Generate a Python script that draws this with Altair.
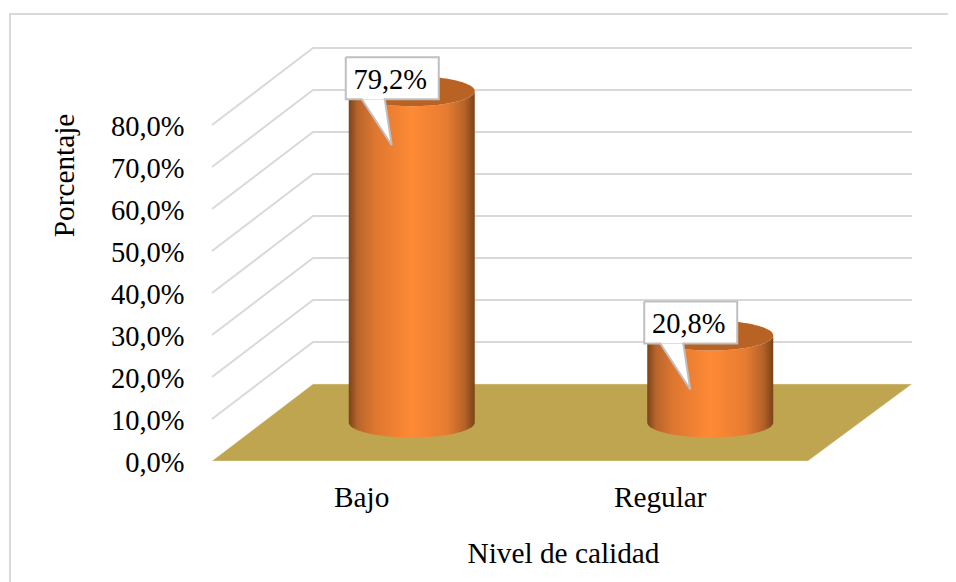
import altair as alt
import numpy as np
import pandas as pd

categories = ["Bajo", "Regular"]
values = [79.2, 20.8]
value_labels = ["79,2%", "20,8%"]
grid_ticks = [10, 20, 30, 40, 50, 60, 70, 80]
axis_ticks = [0, 10, 20, 30, 40, 50, 60, 70, 80]

# Projection of the 3-D box: one category = UX pixels, one percent point = UY pixels
UX, UY = 298.5, 4.2
PLOT_W, PLOT_H = 700, 413
DEPTH_X, DEPTH_Y = 101 / UX, 77 / UY
X_MAX, Y_MAX = PLOT_W / UX, PLOT_H / UY
BAR_PERSPECTIVE = 0.996  # bars stand mid-depth, so they rise slightly less
FONT = "Liberation Serif"
FS = 28.5
FS_X = 29.3

SX = alt.Scale(domain=[0, X_MAX], nice=False, zero=False)
SY = alt.Scale(domain=[0, Y_MAX], nice=False, zero=False)

x_expr = "datum.value < 1 ? '%s' : '%s'" % (categories[0], categories[1])
AX = alt.Axis(
    values=[0.5, 1.5],
    labelExpr=x_expr,
    domain=False,
    ticks=False,
    grid=False,
    labelFont=FONT,
    labelFontSize=FS_X,
    labelColor="#000000",
    labelPadding=36,
    labelBaseline="middle",
    labelOverlap=False,
    title="Nivel de calidad",
    titleFont=FONT,
    titleFontSize=FS_X,
    titleFontWeight="normal",
    titleColor="#000000",
    titleBaseline="middle",
    titleAlign="center",
    titleX=351,
    titleY=92,
)
AY = alt.Axis(
    values=axis_ticks,
    labelExpr="replace(format(datum.value, '.1f'), '.', ',') + '%'",
    domain=False,
    ticks=False,
    grid=False,
    labelFont=FONT,
    labelFontSize=FS,
    labelColor="#000000",
    labelPadding=28,
    labelOffset=1.5,
    labelOverlap=False,
    title="Porcentaje",
    titleFont=FONT,
    titleFontSize=FS_X,
    titleFontWeight="normal",
    titleColor="#000000",
    titleBaseline="middle",
    titleAlign="center",
    titleX=-148,
    titleY=127,
)


def X():
    return alt.X("x:Q", scale=SX, axis=AX)


def Y():
    return alt.Y("y:Q", scale=SY, axis=AY)


# centre of a bar at category index i, half-way through the depth
def cx(i):
    return i + 0.5 + DEPTH_X / 2


CY0 = DEPTH_Y / 2
RX, RY = 63 / UX, 15 / UY

# grid lines on side and back walls
grid_rows = []
for t in grid_ticks:
    grid_rows += [
        dict(t=t, k=0, x=0, y=t),
        dict(t=t, k=1, x=DEPTH_X, y=t + DEPTH_Y),
        dict(t=t, k=2, x=X_MAX, y=t + DEPTH_Y),
    ]
grid = (
    alt.Chart(pd.DataFrame(grid_rows))
    .mark_line(color="#D9D9D9", strokeWidth=2)
    .encode(X(), Y(), detail="t:N", order="k:Q")
)

# floor
FRONT_R = 596 / UX
floor_df = pd.DataFrame(
    [
        dict(x=0, y=0, y2=0),
        dict(x=DEPTH_X, y=DEPTH_Y, y2=0),
        dict(x=FRONT_R, y=DEPTH_Y, y2=0),
        dict(x=X_MAX, y=DEPTH_Y, y2=DEPTH_Y),
    ]
)
floor = (
    alt.Chart(floor_df)
    .mark_area(color="#BFA54F", orient="vertical", stroke="#F1EAD2", strokeWidth=0.5)
    .encode(X(), Y(), y2="y2:Q")
)

# cylinders
theta = np.linspace(0, np.pi, 61)
body_rows, top_rows = [], []
for i, (c, v) in enumerate(zip(categories, values)):
    hv = v * BAR_PERSPECTIVE
    for th in theta:
        px = cx(i) - RX * np.cos(th)
        h = RY * np.sin(th)
        body_rows.append(dict(c=c, x=px, y=CY0 + hv - h, y2=CY0 - h))
        top_rows.append(dict(c=c, x=px, y=CY0 + hv + h, y2=CY0 + hv - h))

grad = alt.Gradient(
    gradient="linear",
    x1=0,
    x2=1,
    y1=0,
    y2=0,
    stops=[
        alt.GradientStop(offset=0, color="#7B4318"),
        alt.GradientStop(offset=0.07, color="#B8652B"),
        alt.GradientStop(offset=0.2, color="#DD7630"),
        alt.GradientStop(offset=0.5, color="#FF8A35"),
        alt.GradientStop(offset=0.78, color="#E67C31"),
        alt.GradientStop(offset=0.92, color="#B56228"),
        alt.GradientStop(offset=1, color="#7B4318"),
    ],
)
body = (
    alt.Chart(pd.DataFrame(body_rows))
    .mark_area(color=grad, orient="vertical")
    .encode(X(), Y(), y2="y2:Q", detail="c:N")
)
top = (
    alt.Chart(pd.DataFrame(top_rows))
    .mark_area(color="#B86224", orient="vertical")
    .encode(X(), Y(), y2="y2:Q", detail="c:N")
)

# callouts (pixel offsets from the top of each bar)
BOX = (-66, 27, -34, 8)
BASE = (-50, -27)
TIP = (-20, 54)
TEXT_SHIFT = (-2, 1.5)
box_rows, tri_rows, outline_rows, text_rows = [], [], [], []
for i, (c, v, lab) in enumerate(zip(categories, values, value_labels)):
    ox, oy = cx(i), CY0 + v * BAR_PERSPECTIVE

    def fx(d):
        return ox + d / UX

    def fy(d):
        return oy - d / UY

    box_rows.append(dict(x=fx(BOX[0]), x2=fx(BOX[1]), y=fy(BOX[2]), y2=fy(BOX[3])))
    edge_l = BOX[3] + (TIP[1] - BOX[3]) * (BASE[1] - BASE[0]) / (TIP[0] - BASE[0])
    tri_rows += [
        dict(c=c, x=fx(BASE[0]), y=fy(BOX[3]), y2=fy(BOX[3])),
        dict(c=c, x=fx(BASE[1]), y=fy(BOX[3]), y2=fy(edge_l)),
        dict(c=c, x=fx(TIP[0]), y=fy(TIP[1]), y2=fy(TIP[1])),
    ]
    path = [
        (BOX[0], BOX[2]),
        (BOX[1], BOX[2]),
        (BOX[1], BOX[3]),
        (BASE[1], BOX[3]),
        TIP,
        (BASE[0], BOX[3]),
        (BOX[0], BOX[3]),
        (BOX[0], BOX[2]),
    ]
    for k, (a, b) in enumerate(path):
        outline_rows.append(dict(c=c, k=k, x=fx(a), y=fy(b)))
    text_rows.append(
        dict(
            x=fx((BOX[0] + BOX[1]) / 2 + TEXT_SHIFT[0]),
            y=fy((BOX[2] + BOX[3]) / 2 + TEXT_SHIFT[1]),
            t=lab,
        )
    )

box = (
    alt.Chart(pd.DataFrame(box_rows))
    .mark_rect(color="#FFFFFF")
    .encode(X(), Y(), x2="x2:Q", y2="y2:Q")
)
tri = (
    alt.Chart(pd.DataFrame(tri_rows))
    .mark_area(color="#FFFFFF", orient="vertical")
    .encode(X(), Y(), y2="y2:Q", detail="c:N")
)
outline = (
    alt.Chart(pd.DataFrame(outline_rows))
    .mark_line(color="#BFBFBF", strokeWidth=2, strokeJoin="miter")
    .encode(X(), Y(), detail="c:N", order="k:Q")
)
text = (
    alt.Chart(pd.DataFrame(text_rows))
    .mark_text(font=FONT, fontSize=FS, color="#000000", baseline="middle", align="center")
    .encode(X(), Y(), text="t:N")
)

# chart-area border: only top and left edges are inside the picture
frame_left = alt.Chart().mark_rule(color="#D9D9D9", strokeWidth=2).encode(
    x=alt.value(-202), y=alt.value(-34), y2=alt.value(534)
)
frame_top = alt.Chart().mark_rule(color="#D9D9D9", strokeWidth=2).encode(
    x=alt.value(-203), x2=alt.value(736), y=alt.value(-34)
)

chart = (
    alt.layer(frame_left, frame_top, grid, floor, body, top, tri, box, outline, text)
    .properties(
        width=PLOT_W,
        height=PLOT_H,
        padding={"left": 204, "top": 40, "right": 36, "bottom": 121},
        autosize=alt.AutoSizeParams(type="none"),
        background="#FFFFFF",
    )
    .configure_view(stroke=None)
)

chart.save("out.html", embed_options={"renderer": "svg", "actions": False})
